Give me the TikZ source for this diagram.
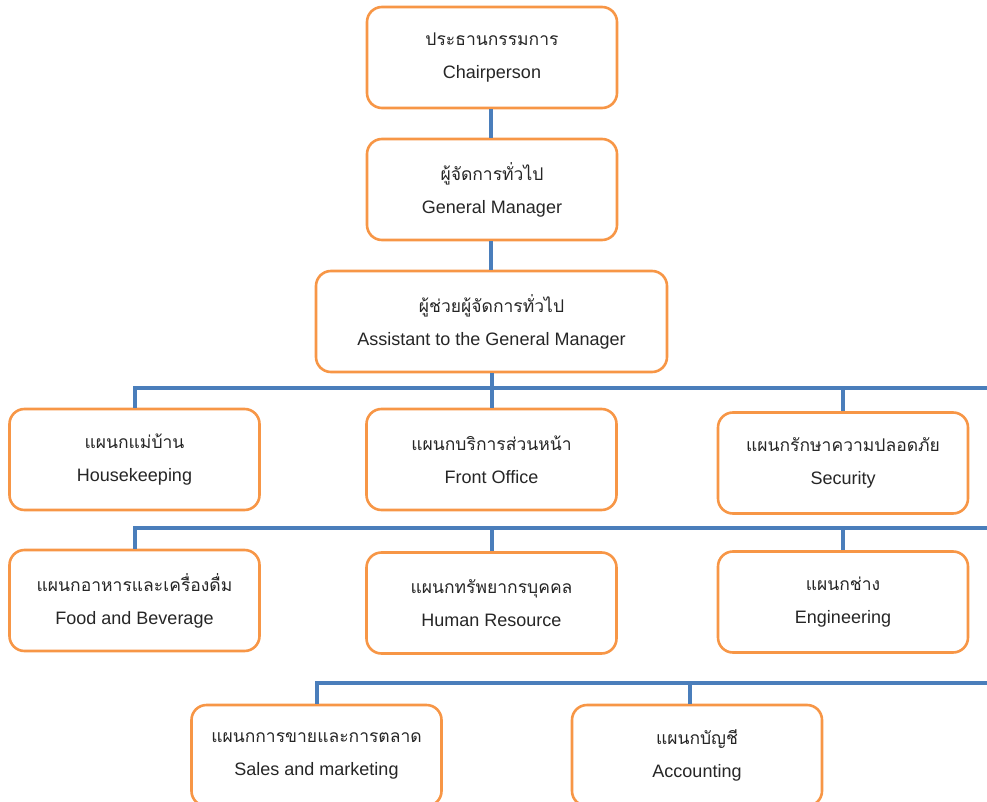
\documentclass[tikz,border=0pt]{standalone}
\usepackage{fontspec}
\setmainfont{Liberation Sans}
\newfontfamily\thaifont[Script=Thai]{Loma}
\definecolor{boxorange}{RGB}{247,150,70}
\definecolor{linkblue}{RGB}{74,126,187}
\definecolor{txtgray}{RGB}{38,38,38}
\tikzset{
  orgbox/.style={draw=boxorange, line width=2.6pt, rounded corners=15pt, fill=white,
    minimum width=250pt, minimum height=101pt, align=center, text=txtgray,
    font=\fontsize{18}{33}\selectfont, inner sep=0pt},
  link/.style={draw=linkblue, line width=4pt}
}
\newcommand{\thtxt}[1]{{\thaifont\fontsize{17.5}{33}\selectfont #1}}
\begin{document}
\begin{tikzpicture}[x=1pt,y=-1pt]
\useasboundingbox (0,0) rectangle (987,802);
\clip (0,0) rectangle (987,802);
\coordinate (bus1) at (995,388);
\coordinate (bus2) at (995,528);
\coordinate (bus3) at (995,683);
\node[orgbox] (chair) at (492,57.5) {\thtxt{ประธานกรรมการ}\\Chairperson};
\node[orgbox] (gm) at (492,189.5) {\thtxt{ผู้จัดการทั่วไป}\\General Manager};
\node[orgbox, minimum width=351pt] (asst) at (491.5,321.5) {\thtxt{ผู้ช่วยผู้จัดการทั่วไป}\\Assistant to the General Manager};
\node[orgbox] (house) at (134.5,459.5) {\thtxt{แผนกแม่บ้าน}\\Housekeeping};
\node[orgbox] (front) at (491.5,459.5) {\thtxt{แผนกบริการส่วนหน้า}\\Front Office};
\node[orgbox] (sec) at (843,463) {\thtxt{แผนกรักษาความปลอดภัย}\\Security};
\node[orgbox] (fb) at (134.5,600.5) {\thtxt{แผนกอาหารและเครื่องดื่ม}\\Food and Beverage};
\node[orgbox] (hr) at (491.5,603) {\thtxt{แผนกทรัพยากรบุคคล}\\Human Resource};
\node[orgbox] (eng) at (843,602) {\thtxt{แผนกช่าง}\\Engineering};
\node[orgbox] (sales) at (316.5,755.5) {\thtxt{แผนกการขายและการตลาด}\\Sales and marketing};
\node[orgbox] (acc) at (697,755.5) {\thtxt{แผนกบัญชี}\\Accounting};
\draw[link] ([xshift=-1.5pt]chair.south) -- ([xshift=-1.5pt]chair.south |- gm.north);
\draw[link] ([xshift=-1pt]gm.south) -- ([xshift=-1pt]gm.south |- asst.north);
\draw[link] (asst.south) -- (front.north);
\draw[link] (house.north) |- (bus1);
\draw[link] (sec.north) -- (sec.north |- bus1);
\draw[link] (fb.north) |- (bus2);
\draw[link] (hr.north) -- (hr.north |- bus2);
\draw[link] (eng.north) -- (eng.north |- bus2);
\draw[link] (sales.north) |- (bus3);
\draw[link] ([xshift=-7pt]acc.north) -- ([xshift=-7pt]acc.north |- bus3);
\end{tikzpicture}
\end{document}
